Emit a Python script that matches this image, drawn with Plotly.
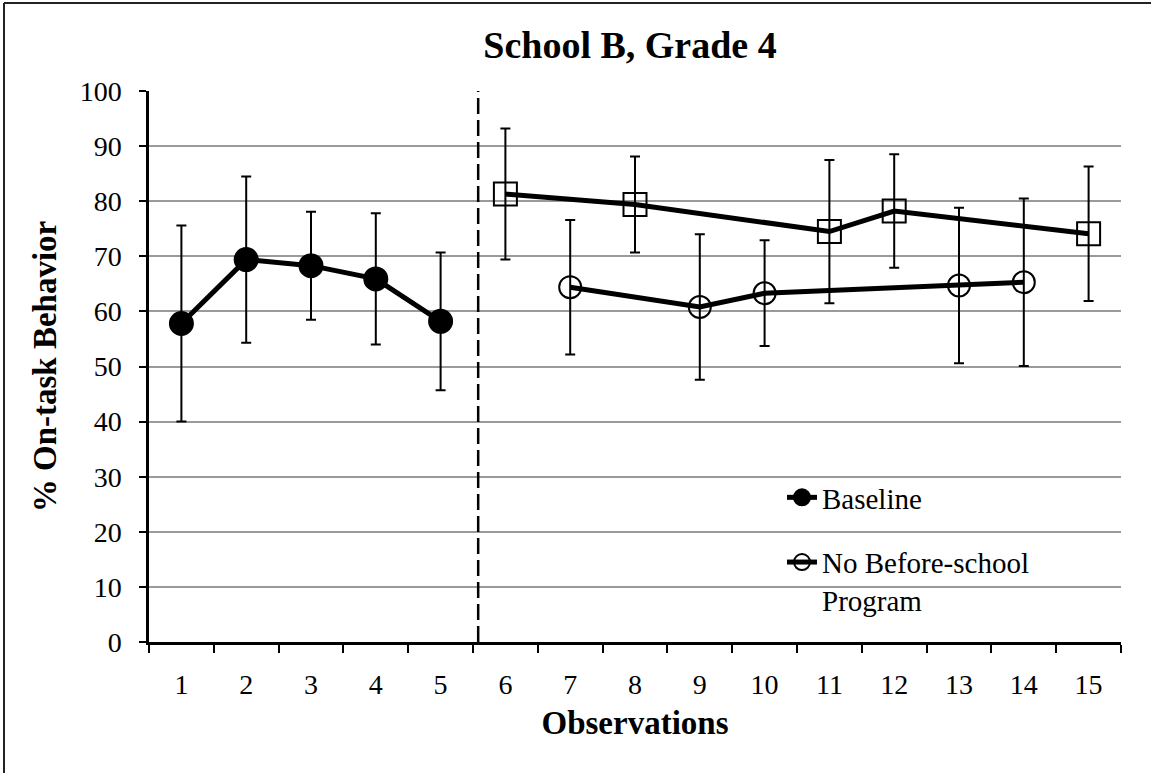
import plotly.graph_objects as go

# ---- data ----
baseline_x = [1, 2, 3, 4, 5]
baseline_y = [57.8, 69.4, 68.3, 65.9, 58.2]
baseline_err = [17.8, 15.1, 9.8, 11.9, 12.5]

program_x = [6, 8, 11, 12, 15]
program_y = [81.3, 79.4, 74.5, 78.2, 74.1]
program_err = [11.9, 8.7, 13.0, 10.3, 12.2]

noprog_x = [7, 9, 10, 13, 14]
noprog_y = [64.4, 60.8, 63.3, 64.7, 65.3]
noprog_err = [12.2, 13.2, 9.6, 14.1, 15.2]

x_ticks = list(range(1, 16))
y_ticks = list(range(0, 101, 10))
phase_change = 5.58

FONT = "Liberation Serif"
W, H = 1151, 773
L, R, T, B = 149, 30, 91, 131
PW, PH = W - L - R, H - T - B

fig = go.Figure()

def add(x, y, err, symbol, name, showlegend, size, group):
    fig.add_trace(go.Scatter(
        x=x, y=y, name=name, showlegend=showlegend, mode="lines+markers",
        legendgroup=group,
        line=dict(color="black", width=5),
        marker=dict(symbol=symbol, size=size, color="black",
                    line=dict(color="black", width=2)),
        error_y=dict(type="data", array=err, visible=True, color="black",
                     thickness=2, width=5),
    ))

add(baseline_x, baseline_y, baseline_err, "circle", "Baseline", True, 23, "a")
add(noprog_x, noprog_y, noprog_err, "circle-open", "No Before-school<br>Program", True, 22, "b")
add(program_x, program_y, program_err, "square-open", "Before-school Program", False, 23, "c")

fig.add_shape(type="line", xref="x", yref="y", x0=phase_change, x1=phase_change,
              y0=0, y1=100, line=dict(color="black", width=2.5, dash="16px,6px"))
# outer border (top and left edges)
fig.add_shape(type="line", xref="paper", yref="paper",
              x0=(4 - L) / PW, x1=(W - L) / PW, y0=(H - B - 3) / PH, y1=(H - B - 3) / PH,
              line=dict(color="#222222", width=2))
fig.add_shape(type="line", xref="paper", yref="paper",
              x0=(4 - L) / PW, x1=(4 - L) / PW, y0=(H - B - 3) / PH, y1=-B / PH,
              line=dict(color="#222222", width=2))

fig.update_layout(
    width=W, height=H,
    margin=dict(l=L, r=R, t=T, b=B),
    paper_bgcolor="white", plot_bgcolor="white",
    font=dict(family=FONT, color="black", size=28),
    title=dict(text="<b>School B, Grade 4</b>", x=630 / W, xanchor="center",
               y=1 - 45 / H, yanchor="middle", font=dict(size=38, family=FONT)),
    showlegend=True,
    legend=dict(x=(782 - L) / PW, y=(H - B - 472) / PH, xanchor="left", yanchor="top",
                bgcolor="rgba(0,0,0,0)", font=dict(size=29, family=FONT),
                tracegroupgap=24, valign="top"),
    xaxis=dict(range=[0.5, 15.5], tickvals=x_ticks, ticktext=[str(v) for v in x_ticks],
               showgrid=False, zeroline=False, showline=True, linecolor="black",
               linewidth=2.5, ticks="", ticklabelstandoff=16,
               minor=dict(ticks="outside", tick0=0.5, dtick=1, ticklen=8,
                          tickcolor="black", tickwidth=1.5, showgrid=False),
               title=dict(text="<b>Observations</b>", font=dict(size=33), standoff=12)),
    yaxis=dict(range=[0, 100], tickvals=y_ticks, showgrid=True, gridcolor="#9a9a9a",
               gridwidth=2, zeroline=False, showline=True, linecolor="black",
               linewidth=2.5, ticks="outside", ticklen=7, tickcolor="black", tickwidth=1.5,
               ticklabelstandoff=12,
               title=dict(text="<b>% On-task Behavior</b>", font=dict(size=33), standoff=14)),
)

fig.write_html("out.html", config={"displayModeBar": False},
               post_script="document.body.style.margin='0';")
